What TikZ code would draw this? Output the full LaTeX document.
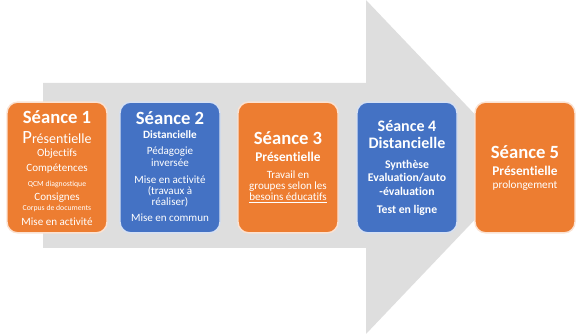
\documentclass[tikz,border=0pt]{standalone}
\usepackage{fontspec}
\setmainfont{Carlito}[Ligatures=NoCommon]
\definecolor{seorange}{RGB}{237,125,49}
\definecolor{seblue}{RGB}{68,114,196}
\definecolor{segray}{RGB}{222,222,222}

\begin{document}
\begin{tikzpicture}[
  x=0.75pt, y=-0.75pt,
  every node/.style={text=white,inner sep=0pt},
  seancebox/.style={draw=white!78!#1,line width=1.1pt,fill=#1,rounded corners=8pt,
                    minimum width=75pt,minimum height=98pt},
  titre/.style={font=\fontsize{14}{16}\selectfont\bfseries},
  soustitre/.style={font=\fontsize{10}{12}\selectfont\bfseries},
  corps/.style={font=\fontsize{8.3}{10}\selectfont},
  corpsgras/.style={font=\fontsize{8.8}{10.5}\selectfont\bfseries},
  petit/.style={font=\fontsize{5.8}{7}\selectfont},
]
  \useasboundingbox (0,0) rectangle (576,334);

  % Big arrow behind
  \fill[segray] (43,83) -- (366,83) -- (366,0) -- (525,167) -- (366,334)
                -- (366,248) -- (43,248) -- cycle;

  % Boxes
  \node[seancebox=seorange] (s1) at (57,167.5) {};
  \node[seancebox=seblue]   (s2) at (170,167.5) {};
  \node[seancebox=seorange] (s3) at (288,167.5) {};
  \node[seancebox=seblue]   (s4) at (407,167.5) {};
  \node[seancebox=seorange] (s5) at (525,167.5) {};

  % Seance 1
  \node[titre] (s1a) at (57,117) {Séance 1};
  \node[font=\fontsize{10.5}{12}\selectfont] (s1b) at (57,138)
       {{\fontsize{14}{16}\selectfont P}résentielle};
  \node[corps] (s1c) at (57,154) {Objectifs};
  \node[corps] (s1d) at (57,169) {Compétences};
  \node[petit] (s1e) at (57,184) {QCM diagnostique};
  \node[corps] (s1f) at (57,198) {Consignes};
  \node[petit] (s1g) at (57,208) {Corpus de documents};
  \node[corps] (s1h) at (57,222) {Mise en activité};

  % Seance 2
  \node[titre] (s2a) at (170,118) {Séance 2};
  \node[font=\fontsize{8.4}{10}\selectfont\bfseries] (s2b) at (170,135) {Distancielle};
  \node[corps] (s2c) at (170,152) {Pédagogie};
  \node[corps] (s2d) at (170,163) {inversée};
  \node[corps] (s2e) at (170,180) {Mise en activité};
  \node[corps] (s2f) at (170,191) {(travaux à};
  \node[corps] (s2g) at (170,202) {réaliser)};
  \node[corps] (s2h) at (170,218) {Mise en commun};

  % Seance 3
  \node[titre] (s3a) at (288,138) {Séance 3};
  \node[soustitre] (s3b) at (288,157) {Présentielle};
  \node[corps] (s3c) at (288,175) {Travail en};
  \node[corps] (s3d) at (288,187) {groupes selon les};
  \node[corps] (s3e) at (288,198) {\underline{besoins éducatifs}};

  % Seance 4
  \node[font=\fontsize{12}{14}\selectfont\bfseries] (s4a) at (407,126) {Séance 4};
  \node[font=\fontsize{12}{14}\selectfont\bfseries] (s4b) at (407,143) {Distancielle};
  \node[corpsgras] (s4c) at (407,165) {Synthèse};
  \node[corpsgras] (s4d) at (407,178) {Evaluation/auto};
  \node[corpsgras] (s4e) at (407,191) {-évaluation};
  \node[corpsgras] (s4f) at (407,210) {Test en ligne};

  % Seance 5
  \node[titre] (s5a) at (525,152) {Séance 5};
  \node[soustitre] (s5b) at (525,171) {Présentielle};
  \node[font=\fontsize{8.4}{10}\selectfont] (s5c) at (525,185.5) {prolongement};
\end{tikzpicture}
\end{document}
